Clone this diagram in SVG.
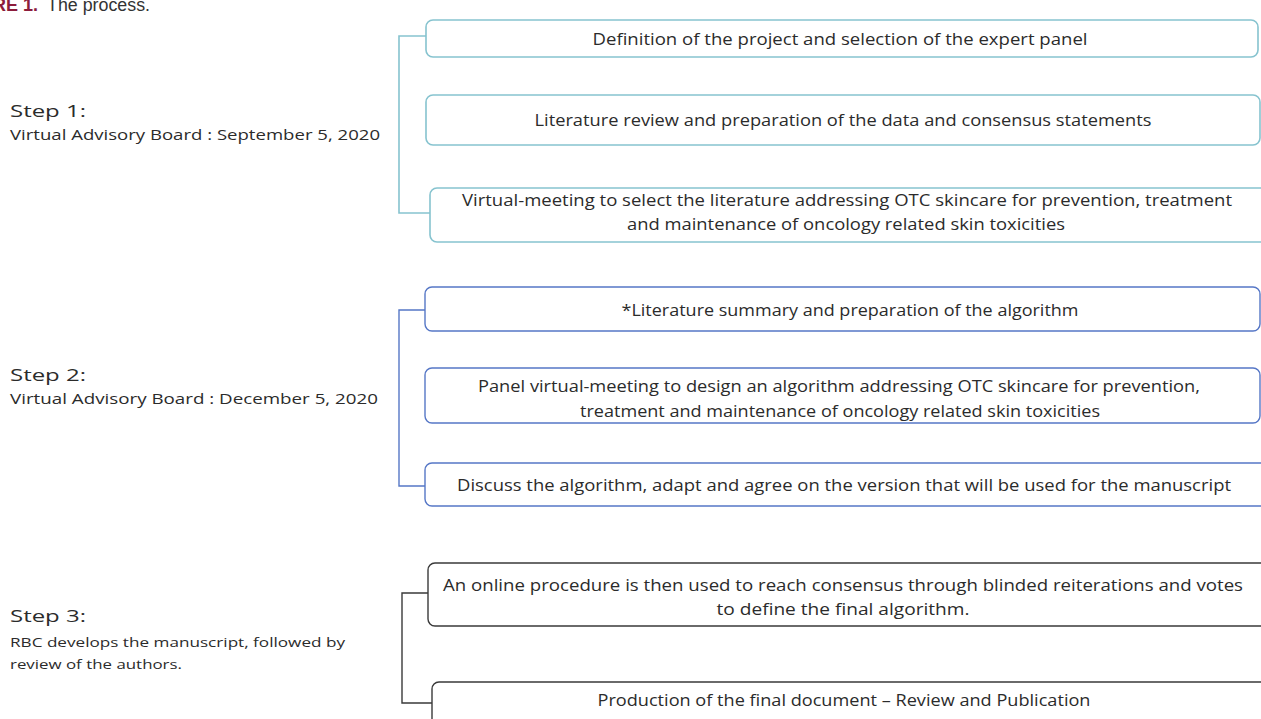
<svg xmlns="http://www.w3.org/2000/svg" width="1261" height="719" viewBox="0 0 1261 719">
<style>
text{font-family:"Open Sans","Noto Sans","Liberation Sans",sans-serif;fill:#2b2b2b}
.bt{font-size:15.5px;text-anchor:middle}
.st{font-size:17px}
.sub{font-size:14px}
.sub3{font-size:12.5px}
.b1{fill:#fff;stroke:#86c3cf;stroke-width:1.6}
.b2{fill:#fff;stroke:#5677c6;stroke-width:1.4}
.b3{fill:#fff;stroke:#3a3a3a;stroke-width:1.4}
.c1{fill:none;stroke:#86c3cf;stroke-width:1.6}
.c2{fill:none;stroke:#5677c6;stroke-width:1.4}
.c3{fill:none;stroke:#3a3a3a;stroke-width:1.4}
</style>
<rect width="1261" height="719" fill="#fff"/>
<g id="title">
<text x="38" y="11" text-anchor="end" style="font-family:'Liberation Sans',sans-serif;font-size:18px;font-weight:bold;fill:#8c1c3c">FIGURE 1.</text>
<text x="47" y="11" textLength="103" lengthAdjust="spacingAndGlyphs" style="font-family:'Liberation Sans',sans-serif;font-size:18px;fill:#333">The process.</text>
</g>
<g id="connectors">
<path class="c1" d="M426,36 H399 V213 H430"/>
<path class="c2" d="M425,310 H399 V486 H425"/>
<path class="c3" d="M428,593 H402 V703 H432"/>
</g>
<g id="step1-label">
<text class="st" x="10" y="117" textLength="76" lengthAdjust="spacingAndGlyphs">Step 1:</text>
<text class="sub" x="10" y="140" textLength="370" lengthAdjust="spacingAndGlyphs">Virtual Advisory Board : September 5, 2020</text>
</g>
<g id="step2-label">
<text class="st" x="10" y="381" textLength="76" lengthAdjust="spacingAndGlyphs">Step 2:</text>
<text class="sub" x="10" y="404" textLength="368" lengthAdjust="spacingAndGlyphs">Virtual Advisory Board : December 5, 2020</text>
</g>
<g id="step3-label">
<text class="st" x="10" y="622" textLength="76" lengthAdjust="spacingAndGlyphs">Step 3:</text>
<text class="sub3" x="10" y="647" textLength="335" lengthAdjust="spacingAndGlyphs">RBC develops the manuscript, followed by</text>
<text class="sub3" x="10" y="669" textLength="172" lengthAdjust="spacingAndGlyphs">review of the authors.</text>
</g>
<g id="n1">
<rect class="b1" x="426" y="20" width="832" height="37" rx="7"/>
<text class="bt" x="840" y="45" textLength="495" lengthAdjust="spacingAndGlyphs">Definition of the project and selection of the expert panel</text>
</g>
<g id="n2">
<rect class="b1" x="426" y="95" width="834" height="50" rx="7"/>
<text class="bt" x="843" y="126" textLength="617" lengthAdjust="spacingAndGlyphs">Literature review and preparation of the data and consensus statements</text>
</g>
<g id="n3">
<rect class="b1" x="430" y="188" width="840" height="54" rx="7"/>
<text class="bt" x="847" y="206" textLength="770" lengthAdjust="spacingAndGlyphs">Virtual-meeting to select the literature addressing OTC skincare for prevention, treatment</text>
<text class="bt" x="846" y="230" textLength="438" lengthAdjust="spacingAndGlyphs">and maintenance of oncology related skin toxicities</text>
</g>
<g id="n4">
<rect class="b2" x="425" y="287" width="835" height="44" rx="7"/>
<text class="bt" x="850" y="316" textLength="457" lengthAdjust="spacingAndGlyphs">*Literature summary and preparation of the algorithm</text>
</g>
<g id="n5">
<rect class="b2" x="425" y="368" width="835" height="55" rx="7"/>
<text class="bt" x="839" y="392" textLength="722" lengthAdjust="spacingAndGlyphs">Panel virtual-meeting to design an algorithm addressing OTC skincare for prevention,</text>
<text class="bt" x="840" y="417" textLength="520" lengthAdjust="spacingAndGlyphs">treatment and maintenance of oncology related skin toxicities</text>
</g>
<g id="n6">
<rect class="b2" x="425" y="463" width="845" height="43" rx="7"/>
<text class="bt" x="844" y="491" textLength="774" lengthAdjust="spacingAndGlyphs">Discuss the algorithm, adapt and agree on the version that will be used for the manuscript</text>
</g>
<g id="n7">
<rect class="b3" x="428" y="563" width="840" height="63" rx="7"/>
<text class="bt" x="843" y="591" textLength="800" lengthAdjust="spacingAndGlyphs">An online procedure is then used to reach consensus through blinded reiterations and votes</text>
<text class="bt" x="843" y="615" textLength="253" lengthAdjust="spacingAndGlyphs">to define the final algorithm.</text>
</g>
<g id="n8">
<rect class="b3" x="432" y="682" width="836" height="60" rx="7"/>
<text class="bt" x="844" y="706" textLength="493" lengthAdjust="spacingAndGlyphs">Production of the final document – Review and Publication</text>
</g>
</svg>
